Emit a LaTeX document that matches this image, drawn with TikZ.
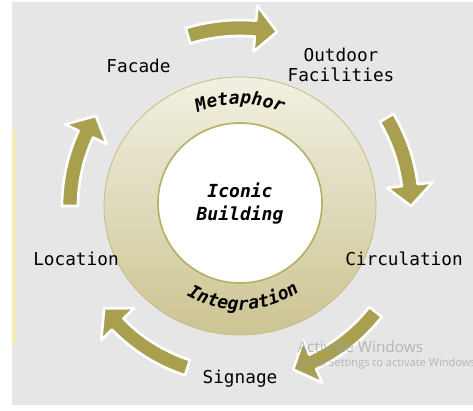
\documentclass[tikz,border=0pt]{standalone}
\usepackage{fontspec}
\usetikzlibrary{decorations.text}

\newfontfamily\diagfont{DejaVu Sans Mono}
\newfontfamily\wmfont{Open Sans}

\definecolor{bggray}{RGB}{230,230,230}
\definecolor{olivearrow}{RGB}{168,160,78}
\definecolor{ringtop}{RGB}{242,240,226}
\definecolor{ringmid}{RGB}{226,221,188}
\definecolor{ringbot}{RGB}{204,196,146}
\definecolor{ringedge}{RGB}{196,188,130}
\definecolor{inneredge}{RGB}{182,174,98}
\definecolor{wmgray}{RGB}{160,160,160}
\definecolor{slideline}{RGB}{246,238,160}

\tikzset{every picture/.style={line width=0.75pt}}
\tikzset{
  lbl/.style={inner sep=0.75pt, font=\diagfont\fontsize{13.3}{15}\selectfont, align=center},
  cyclearr/.style={fill=olivearrow, draw=white, line width=2pt, line join=round},
}

% arrow on the cycle: tail angle, tip angle, radius
\newcommand{\cyclearrow}[3]{%
  \draw[cyclearr] ([shift={(ctr)}]#1:#3+8) arc[start angle=#1, end angle=#2+7, radius=#3+8]
    -- ([shift={(ctr)}]#2+7:#3+23) -- ([shift={(ctr)}]#2:#3) -- ([shift={(ctr)}]#2+7:#3-23)
    -- ([shift={(ctr)}]#2+7:#3-8) arc[start angle=#2+7, end angle=#1, radius=#3-8] -- cycle;}

\begin{document}
\begin{tikzpicture}[x=0.75pt,y=0.75pt]
\clip (0,0) rectangle (473,-410);
% Background
\fill[bggray] (12,-2) rectangle (473,-405);
\fill[slideline] (12,-130) rectangle (14.5,-345);
\coordinate (ctr) at (240,-206);

% Shape: Ring
\shadedraw[top color=ringtop, middle color=ringmid, bottom color=ringbot, draw=ringedge, line width=0.6pt] (ctr) ellipse [x radius=136, y radius=129];
% Shape: Circle
\filldraw[fill=white, draw=inneredge, line width=1.2pt] (240,-203) ellipse [x radius=82, y radius=80];

% Curved arrows
\cyclearrow{107}{78}{178}
\cyclearrow{31}{0}{171}
\cyclearrow{-38}{-72}{172}
\cyclearrow{-108}{-143}{170}
\cyclearrow{180}{148}{170}

% Text Node
\node[lbl, anchor=base] (facade) at (138.5,-72) {Facade};
\node[lbl] (outdoor) at (341,-65) {Outdoor\\Facilities};
\node[lbl, anchor=base] (location) at (76,-265) {Location};
\node[lbl, anchor=base] (circulation) at (404,-265) {Circulation};
\node[lbl, anchor=base] (signage) at (240,-383) {Signage};
\node[lbl, font=\diagfont\bfseries\itshape\fontsize{13.5}{17.3}\selectfont] (iconic) at (240,-204) {Iconic\\Building};

% Text on arcs
\path[decorate, decoration={text along path, text align=center,
  text={|\diagfont\bfseries\itshape\fontsize{13.5}{15}\selectfont|Metaphor}}]
  ([shift={(ctr)}]150:102) arc[start angle=150, end angle=30, radius=102];
\path[decorate, decoration={text along path, text align=center,
  text={|\diagfont\bfseries\itshape\fontsize{13.5}{15}\selectfont|Integration}}]
  ([shift={(ctr)}]212:104) arc[start angle=212, end angle=332, radius=104];

% Watermark
\node[anchor=west, inner sep=0pt, text=wmgray, opacity=0.7, font=\wmfont\fontsize{11.5}{13}\selectfont] (activate) at (297,-347) {Activate Windows};
\node[anchor=west, inner sep=0pt, text=wmgray, opacity=0.7, font=\wmfont\fontsize{8.3}{10}\selectfont] (settings) at (297,-364) {Go to Settings to activate Windows};
\end{tikzpicture}
\end{document}
